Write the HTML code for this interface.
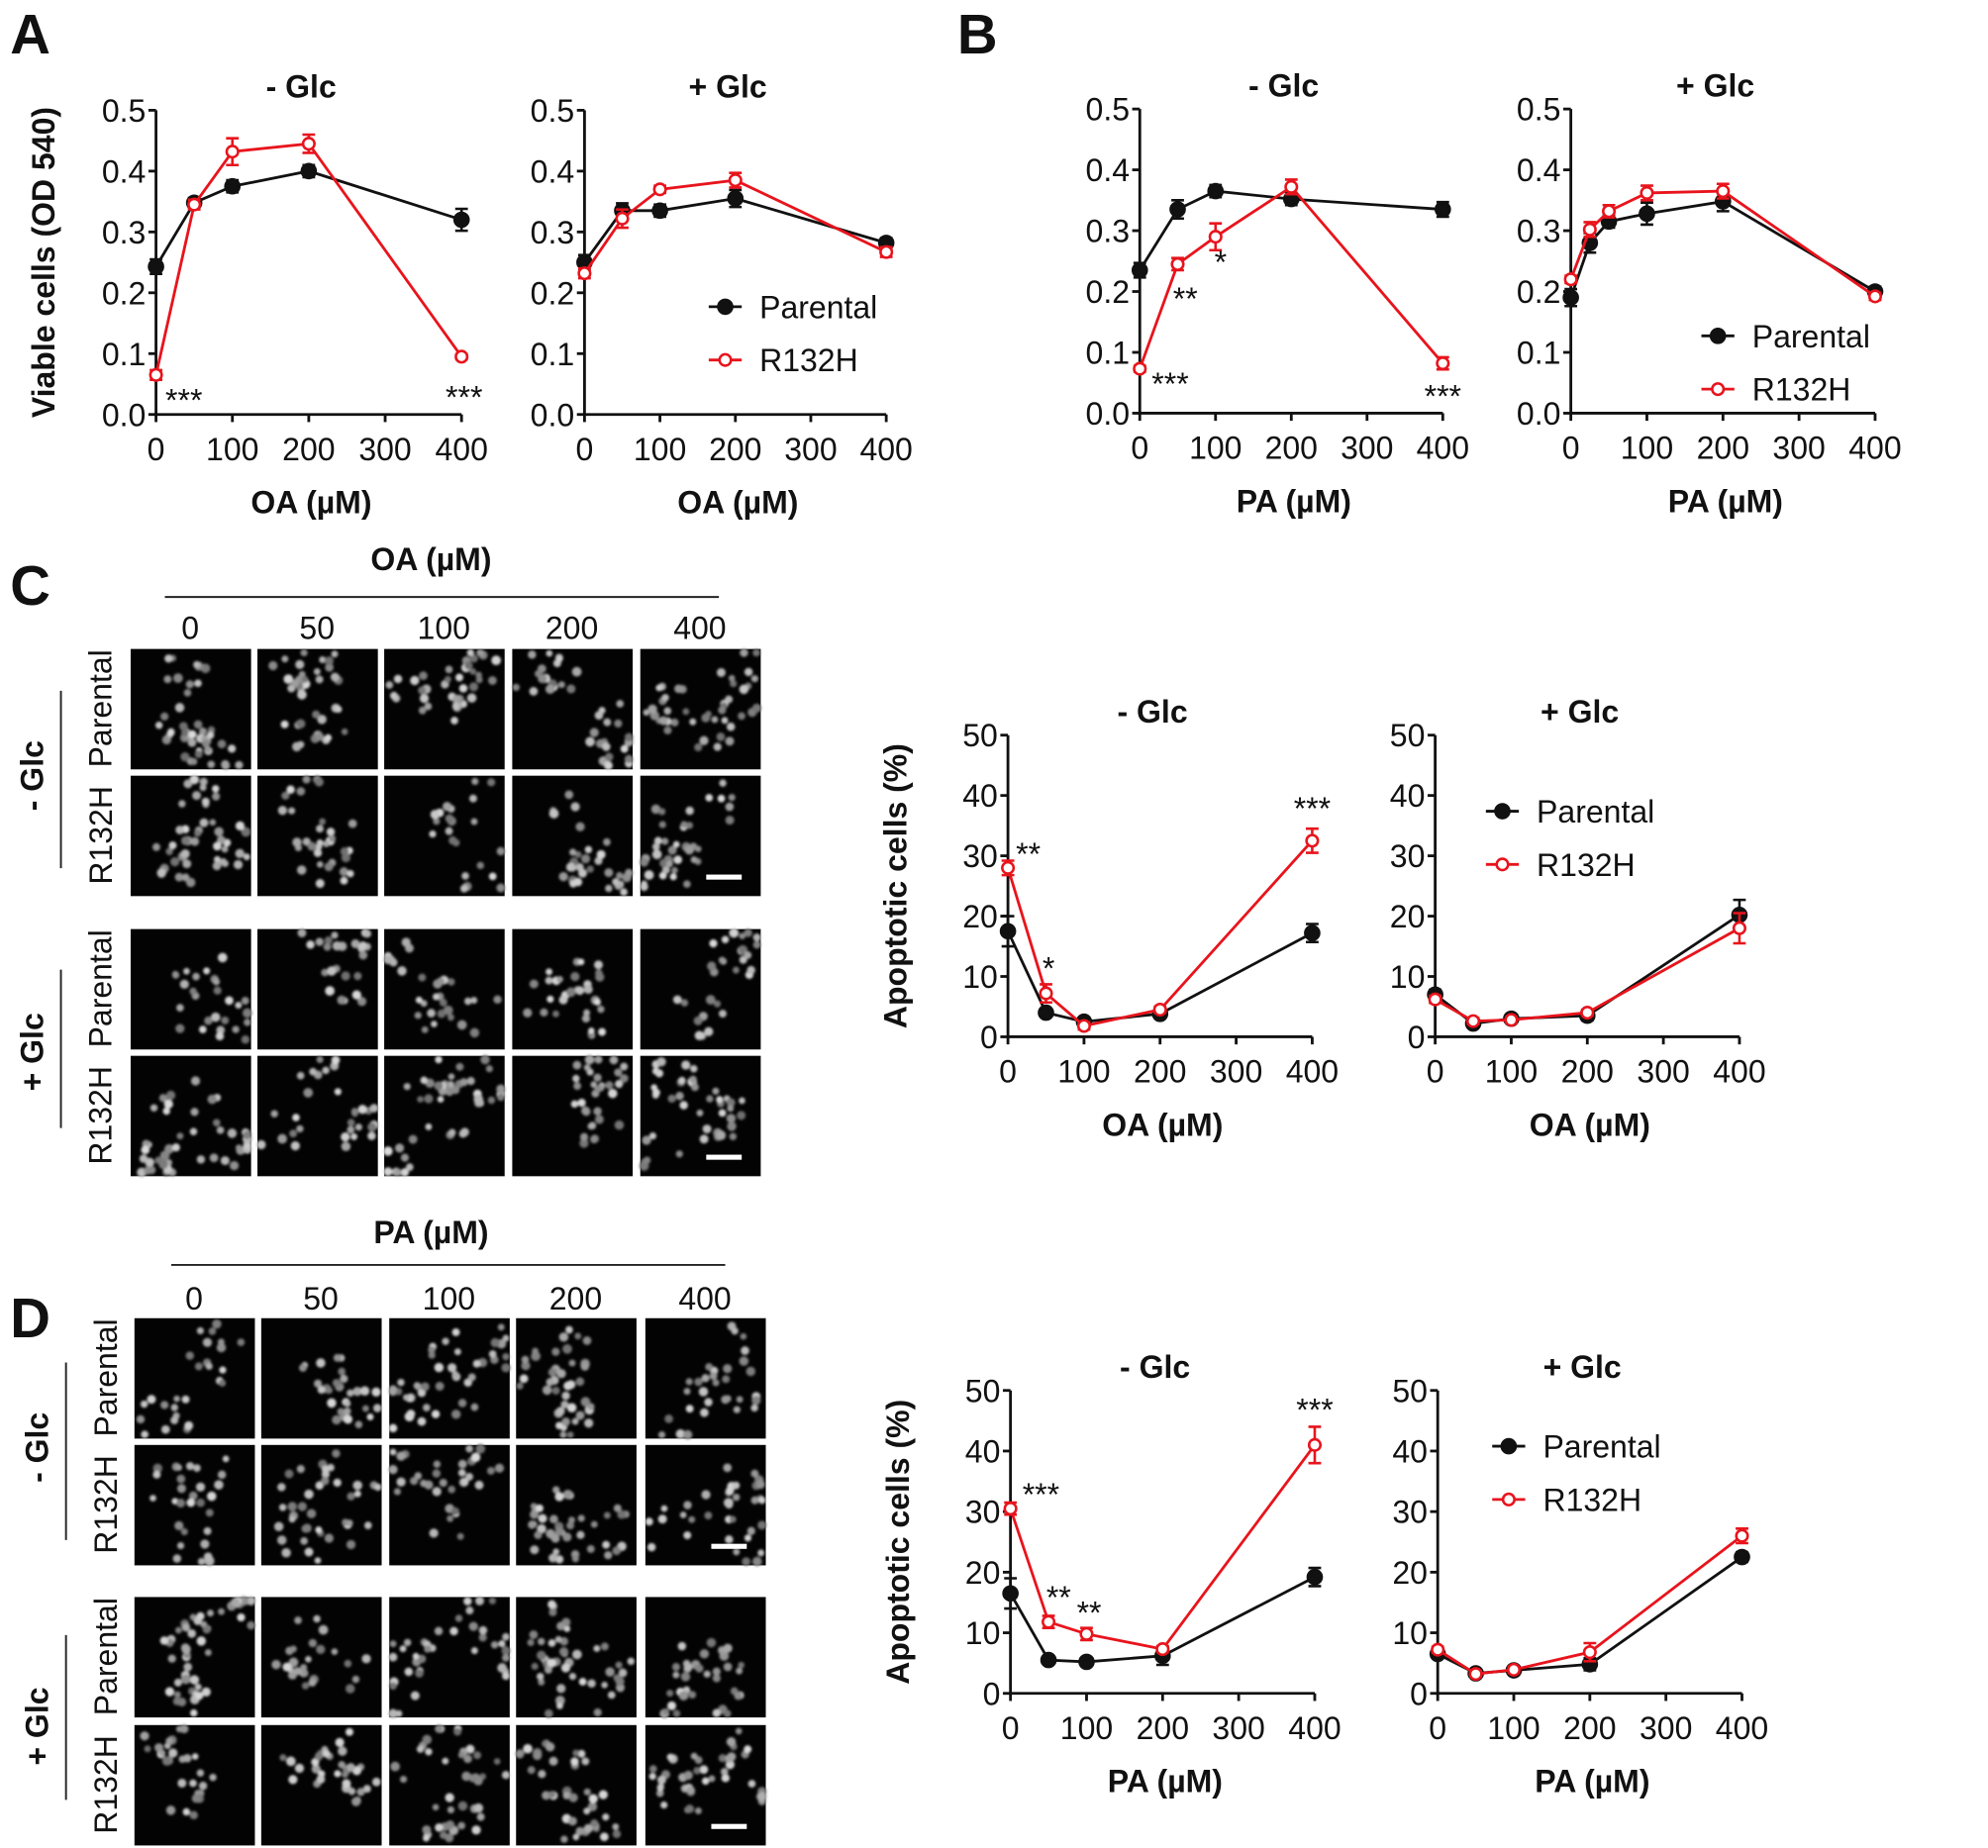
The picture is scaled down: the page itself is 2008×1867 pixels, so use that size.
<!DOCTYPE html>
<html><head><meta charset="utf-8">
<style>
html,body{margin:0;padding:0;background:#fff;}
svg{display:block;font-family:"Liberation Sans",Arial,sans-serif;}
.t{font-size:25px;fill:#111;}
.b{font-weight:bold;font-size:25px;}
</style></head>
<body>
<svg id="fig" width="2008" height="1867" viewBox="0 0 1568 1458" xmlns="http://www.w3.org/2000/svg">
<defs><filter id="blur" x="-5%" y="-5%" width="110%" height="110%"><feGaussianBlur stdDeviation="1.1"/></filter></defs>
<g id="root"></g>
</svg>
<script>
// ---------- chart data ----------
const xA = [0, 50, 100, 200, 400];
const xB2 = [0, 25, 50, 100, 200, 400];
const a1Parental = [0.243, 0.348, 0.375, 0.400, 0.320];
const a1Parental_err = [0.012, 0.008, 0.010, 0.010, 0.018];
const a1R132H = [0.065, 0.345, 0.432, 0.445, 0.095];
const a1R132H_err = [0.008, 0.008, 0.022, 0.015, 0.004];
const a2Parental = [0.250, 0.335, 0.335, 0.355, 0.282];
const a2Parental_err = [0.012, 0.012, 0.010, 0.014, 0.008];
const a2R132H = [0.232, 0.322, 0.370, 0.385, 0.267];
const a2R132H_err = [0.008, 0.015, 0.006, 0.012, 0.008];
const b1Parental = [0.235, 0.335, 0.365, 0.352, 0.335];
const b1Parental_err = [0.012, 0.015, 0.010, 0.010, 0.012];
const b1R132H = [0.073, 0.245, 0.290, 0.372, 0.082];
const b1R132H_err = [0.005, 0.010, 0.022, 0.012, 0.010];
const b2Parental = [0.190, 0.280, 0.315, 0.328, 0.348, 0.200];
const b2Parental_err = [0.014, 0.016, 0.010, 0.018, 0.016, 0.008];
const b2R132H = [0.220, 0.302, 0.332, 0.362, 0.365, 0.192];
const b2R132H_err = [0.006, 0.012, 0.010, 0.012, 0.012, 0.006];
const c1Parental = [17.5, 4.0, 2.5, 3.8, 17.2];
const c1Parental_err = [2.5, 0.5, 0.5, 0.5, 1.5];
const c1R132H = [28.0, 7.2, 1.8, 4.5, 32.5];
const c1R132H_err = [1.2, 1.5, 0.6, 0.5, 2.0];
const c2Parental = [7.0, 2.2, 3.0, 3.5, 20.2];
const c2Parental_err = [0.8, 0.5, 0.5, 0.8, 2.5];
const c2R132H = [6.2, 2.6, 2.8, 4.0, 18.0];
const c2R132H_err = [0.6, 0.5, 0.5, 0.5, 2.5];
const d1Parental = [16.5, 5.5, 5.2, 6.2, 19.2];
const d1Parental_err = [2.5, 0.5, 0.5, 1.5, 1.5];
const d1R132H = [30.5, 11.8, 9.8, 7.3, 41.0];
const d1R132H_err = [1.0, 1.0, 1.0, 0.5, 3.0];
const d2Parental = [6.5, 3.3, 3.8, 4.8, 22.5];
const d2Parental_err = [0.5, 0.5, 0.5, 1.0, 0.8];
const d2R132H = [7.2, 3.2, 3.9, 6.8, 26.0];
const d2R132H_err = [0.5, 0.5, 0.5, 1.5, 1.2];
const xTicks = [0, 100, 200, 300, 400];
const xTickLabels = ["0", "100", "200", "300", "400"];
const odTicks = [0, 0.1, 0.2, 0.3, 0.4, 0.5];
const odTickLabels = ["0.0", "0.1", "0.2", "0.3", "0.4", "0.5"];
const apTicks = [0, 10, 20, 30, 40, 50];
const apTickLabels = ["0", "10", "20", "30", "40", "50"];
const concLabels = ["0", "50", "100", "200", "400"];

const NS = "http://www.w3.org/2000/svg";
const root = document.getElementById("root");
function mk(tag, attrs, parent, text) {
  const e = document.createElementNS(NS, tag);
  for (const k in attrs) e.setAttribute(k, attrs[k]);
  if (text !== undefined) e.textContent = text;
  (parent || root).appendChild(e);
  return e;
}
function txt(x, y, s, cls, anchor, parent, rot) {
  const e = mk("text", {x: x, y: y, class: cls || "t", "text-anchor": anchor || "middle"}, parent, s);
  if (rot) e.setAttribute("transform", "rotate(-90 " + x + " " + y + ")");
  return e;
}

function chart(opt) {
  const g = mk("g", {});
  
  
  const sx = v => opt.x0 + (v / 400) * (opt.x1 - opt.x0);
  const sy = v => opt.y0 - (v / opt.ymax) * (opt.y0 - opt.y1);
  const ax = mk("g", {stroke: "#111", "stroke-width": 2.2, fill: "none"}, g);
  
  
  mk("path", {d: "M" + opt.x0 + " " + opt.y1 + " V" + opt.y0 + " H" + opt.x1}, ax);
  opt.yTicks.forEach((v, i) => {
    mk("line", {x1: opt.x0 - 6, x2: opt.x0, y1: sy(v), y2: sy(v)}, ax);
    const t = txt(opt.x0 - 8, sy(v) + 9, opt.yLabels[i], "t", "end", g);
    
    
  });
  xTicks.forEach((v, i) => {
    mk("line", {x1: sx(v), x2: sx(v), y1: opt.y0, y2: opt.y0 + 6}, ax);
    const t = txt(sx(v), opt.y0 + 36, xTickLabels[i], "t", "middle", g);
    
    
  });
  const tt = txt((opt.x0 + opt.x1) / 2 - 6, opt.y1 - 10, opt.title, "t b", "middle", g);
  
  
  const xl = txt((opt.x0 + opt.x1) / 2 + 2, opt.y0 + 78, opt.xlabel, "t b", "middle", g);
  
  
  if (opt.ylabel) {
    const yl = txt(opt.x0 - 80, (opt.y0 + opt.y1) / 2, opt.ylabel, "t b", "middle", g, true);
    
    
  }
  opt.series.forEach(s => {
    const sg = mk("g", {}, g);
    
    
    const pts = s.vals.map((v, i) => [sx(opt.xs[i]), sy(v)]);
    mk("polyline", {points: pts.map(p => p.join(",")).join(" "), fill: "none", stroke: s.color, "stroke-width": 2.2}, sg);
    s.vals.forEach((v, i) => {
      const x = sx(opt.xs[i]);
      const e1 = sy(v + s.err[i]), e2 = sy(v - s.err[i]);
      const eb = mk("path", {d: "M" + x + " " + e1 + " V" + e2 + " M" + (x - 5) + " " + e1 + " H" + (x + 5) + " M" + (x - 5) + " " + e2 + " H" + (x + 5), stroke: s.color, "stroke-width": 2, fill: "none"}, sg);
      
      
      const c = mk("circle", {cx: x, cy: sy(v), r: s.open ? 4.5 : 5.5, fill: s.open ? "#fff" : s.color, stroke: s.color, "stroke-width": 2}, sg);
      
      
    });
  });
  (opt.stars || []).forEach(st => {
    const t = txt(sx(st[0]) + (st[3] || 0), sy(st[1]), st[2], "t", "middle", g);
    
    
  });
  if (opt.legend) {
    const lg = mk("g", {}, g);
    
    
    const [lx, ly] = opt.legend;
    [["Parental", "#111", false, 0], ["R132H", "#e8141c", true, 42]].forEach(e => {
      const eg = mk("g", {}, lg);
      
      
      mk("line", {x1: lx - 13, x2: lx + 13, y1: ly + e[3], y2: ly + e[3], stroke: e[1], "stroke-width": 2.2}, eg);
      mk("circle", {cx: lx, cy: ly + e[3], r: e[2] ? 4.5 : 5.5, fill: e[2] ? "#fff" : e[1], stroke: e[1], "stroke-width": 2}, eg);
      txt(lx + 27, ly + e[3] + 9, e[0], "t", "start", eg);
    });
  }
}
const BL = "#111", RD = "#e8141c";
function ser(p, pe, r, re) {
  return [{name: "parental-series", vals: p, err: pe, color: BL, open: false},
          {name: "r132h-series", vals: r, err: re, color: RD, open: true}];
}
chart({name: "chart-a-minus-glc", x0: 123, x1: 364, y0: 327, y1: 87, ymax: 0.5, yTicks: odTicks, yLabels: odTickLabels, xs: xA, title: "- Glc", xlabel: "OA (µM)", ylabel: "Viable cells (OD 540)",
  series: ser(a1Parental, a1Parental_err, a1R132H, a1R132H_err), stars: [[0, 0.005, "***", 22], [400, 0.01, "***", 2]]});
chart({name: "chart-a-plus-glc", x0: 461, x1: 699, y0: 327, y1: 87, ymax: 0.5, yTicks: odTicks, yLabels: odTickLabels, xs: xA, title: "+ Glc", xlabel: "OA (µM)",
  series: ser(a2Parental, a2Parental_err, a2R132H, a2R132H_err), legend: [572, 242]});
chart({name: "chart-b-minus-glc", x0: 899, x1: 1138, y0: 326, y1: 86, ymax: 0.5, yTicks: odTicks, yLabels: odTickLabels, xs: xA, title: "- Glc", xlabel: "PA (µM)",
  series: ser(b1Parental, b1Parental_err, b1R132H, b1R132H_err), stars: [[0, 0.03, "***", 24], [50, 0.17, "**", 6], [100, 0.23, "*", 4], [400, 0.01, "***", 0]]});
chart({name: "chart-b-plus-glc", x0: 1239, x1: 1479, y0: 326, y1: 86, ymax: 0.5, yTicks: odTicks, yLabels: odTickLabels, xs: xB2, title: "+ Glc", xlabel: "PA (µM)",
  series: ser(b2Parental, b2Parental_err, b2R132H, b2R132H_err), legend: [1355, 265]});
chart({name: "chart-c-minus-glc", x0: 795, x1: 1035, y0: 818, y1: 580, ymax: 50, yTicks: apTicks, yLabels: apTickLabels, xs: xA, title: "- Glc", xlabel: "OA (µM)", ylabel: "Apoptotic cells (%)",
  series: ser(c1Parental, c1Parental_err, c1R132H, c1R132H_err), stars: [[0, 28.5, "**", 16], [50, 9.5, "*", 2], [400, 36, "***", 0]]});
chart({name: "chart-c-plus-glc", x0: 1132, x1: 1372, y0: 818, y1: 580, ymax: 50, yTicks: apTicks, yLabels: apTickLabels, xs: xA, title: "+ Glc", xlabel: "OA (µM)",
  series: ser(c2Parental, c2Parental_err, c2R132H, c2R132H_err), legend: [1185, 640]});
chart({name: "chart-d-minus-glc", x0: 797, x1: 1037, y0: 1336, y1: 1097, ymax: 50, yTicks: apTicks, yLabels: apTickLabels, xs: xA, title: "- Glc", xlabel: "PA (µM)", ylabel: "Apoptotic cells (%)",
  series: ser(d1Parental, d1Parental_err, d1R132H, d1R132H_err), stars: [[0, 31, "***", 24], [50, 14, "**", 8], [100, 11.5, "**", 2], [400, 45, "***", 0]]});
chart({name: "chart-d-plus-glc", x0: 1134, x1: 1374, y0: 1336, y1: 1097, ymax: 50, yTicks: apTicks, yLabels: apTickLabels, xs: xA, title: "+ Glc", xlabel: "PA (µM)",
  series: ser(d2Parental, d2Parental_err, d2R132H, d2R132H_err), legend: [1190, 1141]});

// ---------- panel letters ----------
[["A", 8, 42], ["B", 755, 42], ["C", 8, 477], ["D", 8, 1055]].forEach(p => {
  const t = mk("text", {x: p[1], y: p[2], "font-size": 44, "font-weight": "bold", fill: "#111"}, root, p[0]);
  
  
});

// ---------- micrograph grids ----------
let seed = 12345;
function rnd() { seed = (seed * 1103515245 + 12345) % 2147483648; return seed / 2147483648; }
function grid(name, cols, rows, header, hx, hy, lineY, lineX0, lineX1, numY, lblX, glcX, lineGX, groups) {
  const g = mk("g", {});
  
  
  const h = txt(hx, hy, header, "t b", "middle", g);
  
  
  mk("line", {x1: lineX0, x2: lineX1, y1: lineY, y2: lineY, stroke: "#222", "stroke-width": 1.5}, g);
  cols.forEach((c, i) => {
    const t = txt(c + 47, numY, concLabels[i], "t", "middle", g);
    
    
  });
  const rowNames = ["Parental", "R132H", "Parental", "R132H"];
  rows.forEach((r, ri) => {
    const t = txt(lblX, r + 47, rowNames[ri], "t", "middle", g, true);
    
    
    cols.forEach((c, ci) => {
      const cell = mk("g", {}, g);
      
      
      mk("rect", {x: c, y: r, width: 95, height: 95, fill: "#030303"}, cell);
      const dots = mk("g", {filter: "url(#blur)"}, cell);
      const nCl = 4 + Math.floor(rnd() * 3);
      for (let q = 0; q < nCl; q++) {
        const cx0 = c + 10 + rnd() * 75, cy0 = r + 10 + rnd() * 75;
        const m = 5 + Math.floor(rnd() * 6);
        for (let k = 0; k < m; k++) {
          const gv = Math.floor(110 + rnd() * 110);
          const px = Math.min(c + 92, Math.max(c + 3, cx0 + (rnd() - 0.5) * 34));
          const py = Math.min(r + 92, Math.max(r + 3, cy0 + (rnd() - 0.5) * 34));
          mk("circle", {cx: px.toFixed(1), cy: py.toFixed(1), r: (2.6 + rnd() * 1.2).toFixed(1), fill: "rgb(" + gv + "," + gv + "," + gv + ")"}, dots);
        }
      }
      if (ci === 4 && (ri === 1 || ri === 3)) {
        const sb = mk("rect", {x: c + 52, y: r + 78, width: 28, height: 4, fill: "#fff"}, cell);
        
        
      }
    });
  });
  groups.forEach(gr => {
    mk("line", {x1: lineGX, x2: lineGX, y1: gr[1], y2: gr[2], stroke: "#222", "stroke-width": 1.5}, g);
    const t = txt(glcX, gr[3], gr[0], "t b", "middle", g, true);
    
    
  });
}
grid("micrographs-c", [103, 203, 303, 404, 505], [512, 612, 733, 833], "OA (µM)", 340, 450, 471, 130, 567, 504, 88, 34, 48,
  [["- Glc", 545, 685, 612], ["+ Glc", 765, 890, 830]]);
grid("micrographs-d", [106, 206, 307, 407, 509], [1040, 1140, 1260, 1361], "PA (µM)", 340, 981, 998, 135, 572, 1033, 92, 38, 52,
  [["- Glc", 1075, 1215, 1142], ["+ Glc", 1290, 1420, 1362]]);
</script>
</body></html>
